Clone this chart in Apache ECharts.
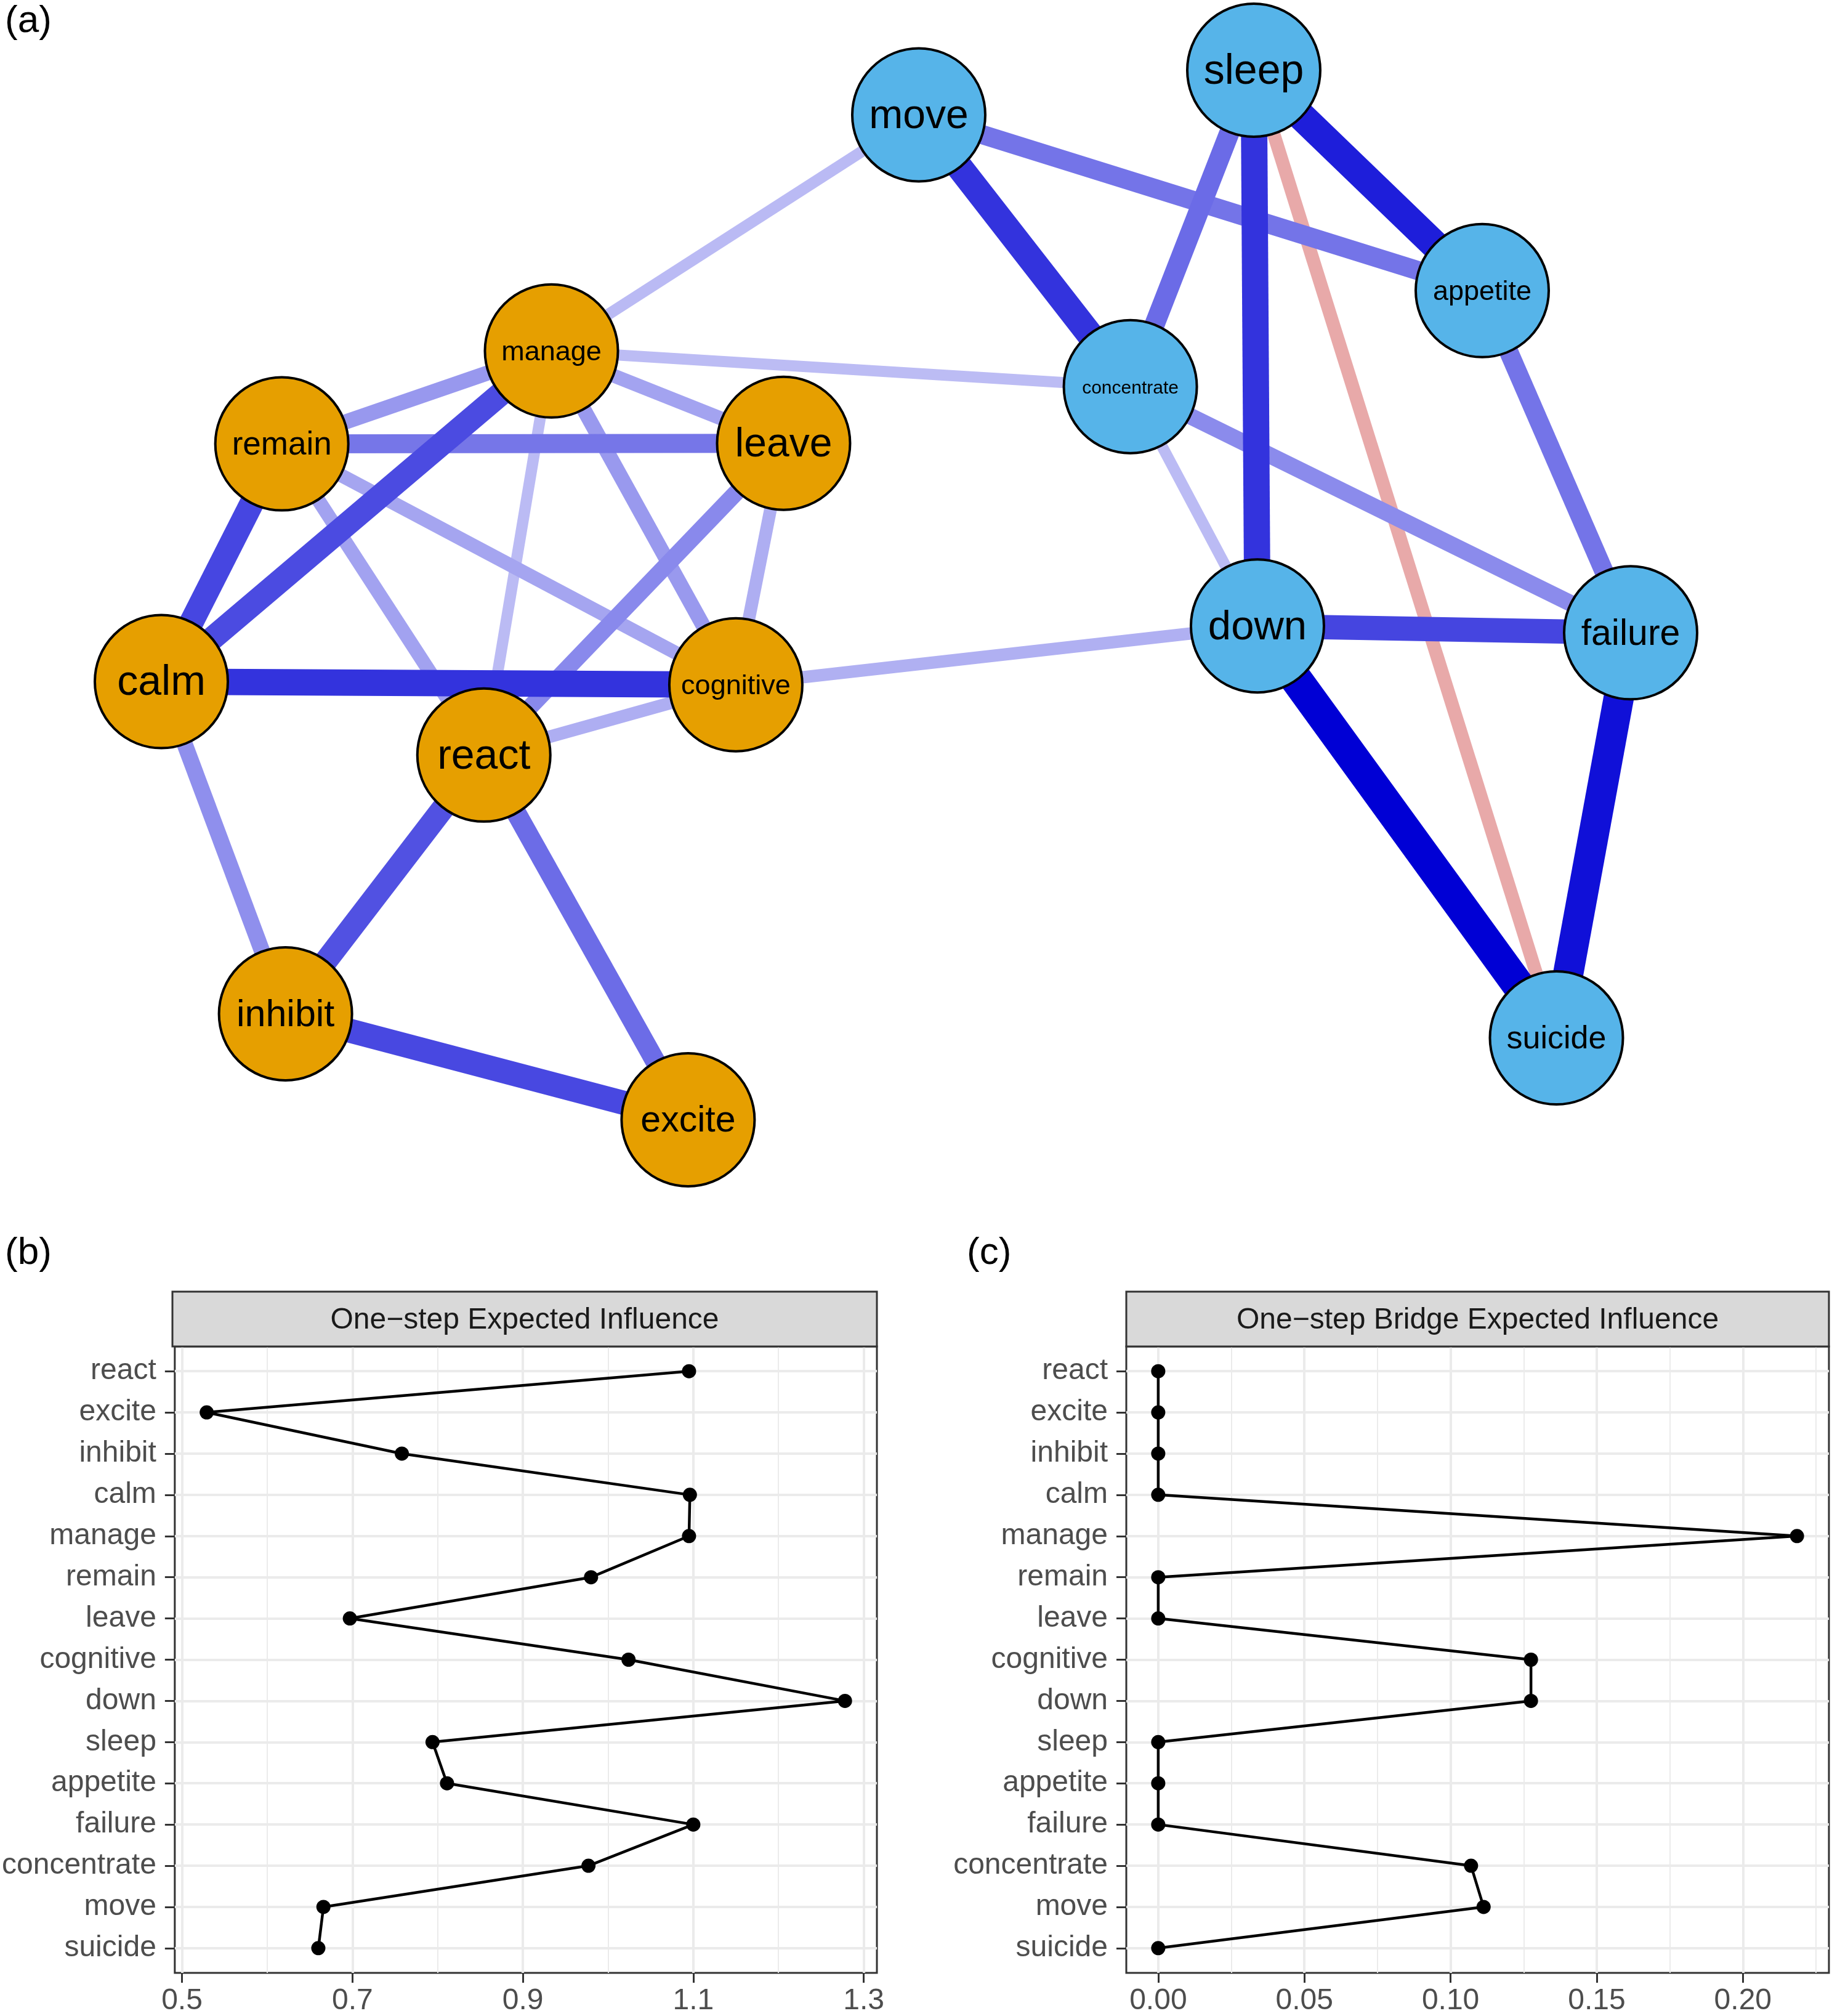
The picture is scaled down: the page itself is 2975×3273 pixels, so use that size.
<!DOCTYPE html>
<html>
<head>
<meta charset="utf-8">
<script src="https://cdn.jsdelivr.net/npm/echarts@6/dist/echarts.min.js"></script>
<style>
html,body{margin:0;padding:0;background:#ffffff;}
#chart{width:2975px;height:3273px;}
</style>
</head>
<body>
<div id="chart"></div>
<script>
// ---------------- DATA ----------------
// node names (also the row order of panels b and c, top to bottom)
const nodeNames = ['react','excite','inhibit','calm','manage','remain','leave','cognitive',
                   'down','sleep','appetite','failure','concentrate','move','suicide'];
const nodeGroup = ['emotion','emotion','emotion','emotion','emotion','emotion','emotion','emotion',
                   'depression','depression','depression','depression','depression','depression','depression'];
// network layout coordinates (normalised -1..1)
const layoutX = [-0.561,-0.283,-0.831,-1.000,-0.469,-0.836,-0.153,-0.218,
                  0.492, 0.487, 0.798, 1.000, 0.319, 0.031, 0.899];
const layoutY = [-0.305,-1.000,-0.798,-0.165, 0.465, 0.288, 0.289,-0.171,
                 -0.059, 1.000, 0.580,-0.072, 0.397, 0.915,-0.844];
// edges (partial correlation weights)
const edgeFrom = ['remain','manage','calm','calm','remain','manage','manage','manage','manage','manage','manage',
                  'remain','remain','leave','leave','react','react','react','inhibit','cognitive',
                  'move','move','sleep','sleep','sleep','sleep','concentrate','concentrate','appetite','down','down','failure'];
const edgeTo   = ['calm','calm','cognitive','inhibit','leave','remain','leave','react','cognitive','move','concentrate',
                  'react','cognitive','react','cognitive','cognitive','inhibit','excite','excite','down',
                  'concentrate','appetite','appetite','concentrate','down','suicide','down','failure','failure','failure','suicide','suicide'];
const edgeWeight = [0.297,0.290,0.328,0.180,0.221,0.165,0.148,0.110,0.164,0.111,0.107,
                    0.150,0.145,0.190,0.131,0.130,0.279,0.236,0.295,0.127,
                    0.328,0.223,0.361,0.238,0.328,-0.139,0.109,0.187,0.223,0.299,0.410,0.385];
// panel (b) one-step expected influence
const eiValues = [1.095,0.529,0.758,1.096,1.095,0.980,0.697,1.024,1.278,0.794,0.811,1.100,0.977,0.666,0.660];
// panel (c) one-step bridge expected influence
const bridgeValues = [0,0,0,0,0.2185,0,0,0.1275,0.1275,0,0,0,0.107,0.1113,0];
// tick labels
const eiTicks = [0.5,0.7,0.9,1.1,1.3];
const eiTickLabels = ['0.5','0.7','0.9','1.1','1.3'];
const eiMinor = [0.6,0.8,1.0,1.2];
const bridgeTicks = [0,0.05,0.10,0.15,0.20];
const bridgeTickLabels = ['0.00','0.05','0.10','0.15','0.20'];
const bridgeMinor = [0.025,0.075,0.125,0.175,0.225];
const stripTitles = ['One\u2212step Expected Influence','One\u2212step Bridge Expected Influence'];
const panelTags = ['(a)','(b)','(c)'];

// ---------------- STYLE ----------------
const FONT = '"Liberation Sans", Arial, Helvetica, sans-serif';
const groupColor = {emotion:'#E69F00', depression:'#56B4E9'};
const labelSize = {react:68, excite:59, inhibit:61, calm:68, manage:45, remain:53, leave:66, cognitive:45,
                   down:67, sleep:68, appetite:45, failure:59, concentrate:30, move:66, suicide:52};
const maxW = 0.41;
function mix(base, a){
  return 'rgb(' + base.map(c => Math.round(255 - a*(255-c))).join(',') + ')';
}
function edgeColor(w){
  const a = Math.min(1, Math.abs(w)/maxW);
  return w >= 0 ? mix([0,0,213], a) : mix([186,0,0], a);
}
function edgeWidth(w){
  const a = Math.min(1, Math.abs(w)/maxW);
  return 6 + 46*a;
}
function expandRange(vals){
  const mn = Math.min.apply(null, vals), mx = Math.max.apply(null, vals);
  const r = mx - mn;
  return [mn - 0.05*r, mx + 0.05*r];
}
function labelFor(ticks, labels){
  return function(v){
    for (let i=0;i<ticks.length;i++){ if (Math.abs(ticks[i]-v) < 1e-9) return labels[i]; }
    return '';
  };
}
const rowIdx = nodeNames.map((n,i)=>i);

const edgeOrder = edgeWeight.map((w,i)=>i).sort((a,b)=>Math.abs(edgeWeight[a])-Math.abs(edgeWeight[b]));

const eiRange = expandRange(eiValues);
const brRange = expandRange(bridgeValues);

const panelB = {left:280, top:2186, width:1144, height:1024};
const panelC = {left:1829, top:2186, width:1141, height:1024};
const stripH = 89;

function valueAxis(grid, range, ticks, labels){
  return {
    type:'value', gridIndex:grid, min:range[0], max:range[1], position:'bottom',
    axisLine:{show:false, onZero:false},
    axisTick:{show:true, length:16, customValues:ticks, lineStyle:{color:'#333333', width:3}},
    axisLabel:{show:true, customValues:ticks, formatter:labelFor(ticks, labels), fontSize:48, color:'#4D4D4D', margin:22, fontFamily:FONT},
    splitLine:{show:true, lineStyle:{color:'#EBEBEB', width:4}}
  };
}
function minorAxis(grid, range, ticks){
  return {
    type:'value', gridIndex:grid, min:range[0], max:range[1], position:'top',
    axisLine:{show:false, onZero:false},
    axisTick:{show:false, customValues:ticks},
    axisLabel:{show:false, customValues:ticks},
    splitLine:{show:true, lineStyle:{color:'#EBEBEB', width:2}}
  };
}
function rowAxis(grid){
  return {
    type:'value', gridIndex:grid, min:-0.6, max:nodeNames.length-1+0.6, inverse:true, position:'left',
    axisLine:{show:false, onZero:false},
    axisTick:{show:true, length:16, customValues:rowIdx, lineStyle:{color:'#333333', width:3}},
    axisLabel:{show:true, customValues:rowIdx, formatter:v=>nodeNames[Math.round(v)], fontSize:48, color:'#4D4D4D', margin:30, fontFamily:FONT},
    splitLine:{show:true, lineStyle:{color:'#EBEBEB', width:4}}
  };
}
function strip(p, title){
  return [
    {type:'rect', shape:{x:p.left, y:p.top-stripH, width:p.width, height:stripH},
     style:{fill:'#D9D9D9', stroke:'#333333', lineWidth:3}, z:10},
    {type:'text', style:{text:title, x:p.left+p.width/2, y:p.top-stripH/2+2, font:'48px '+FONT,
     fill:'#1A1A1A', textAlign:'center', textVerticalAlign:'middle'}, z:11}
  ];
}

const option = {
  animation:false,
  backgroundColor:'#ffffff',
  textStyle:{fontFamily:FONT},
  grid:[
    {left:262, top:114, width:2386, height:1704, show:false},
    Object.assign({show:true, backgroundColor:'#ffffff', borderColor:'#333333', borderWidth:3}, panelB),
    Object.assign({show:true, backgroundColor:'#ffffff', borderColor:'#333333', borderWidth:3}, panelC)
  ],
  xAxis:[
    {type:'value', gridIndex:0, min:-1, max:1, show:false},
    valueAxis(1, eiRange, eiTicks, eiTickLabels),
    minorAxis(1, eiRange, eiMinor),
    valueAxis(2, brRange, bridgeTicks, bridgeTickLabels),
    minorAxis(2, brRange, bridgeMinor)
  ],
  yAxis:[
    {type:'value', gridIndex:0, min:-1, max:1, show:false},
    rowAxis(1),
    rowAxis(2)
  ],
  graphic:[
    {type:'text', style:{text:panelTags[0], x:8, y:4, font:'62px '+FONT, fill:'#000000', textAlign:'left', textVerticalAlign:'top'}},
    {type:'text', style:{text:panelTags[1], x:8, y:2004, font:'62px '+FONT, fill:'#000000', textAlign:'left', textVerticalAlign:'top'}},
    {type:'text', style:{text:panelTags[2], x:1570, y:2004, font:'62px '+FONT, fill:'#000000', textAlign:'left', textVerticalAlign:'top'}}
  ].concat(strip(panelB, stripTitles[0]), strip(panelC, stripTitles[1])),
  series:[
    {
      type:'graph', layout:'none', coordinateSystem:'cartesian2d', xAxisIndex:0, yAxisIndex:0,
      symbol:'circle', symbolSize:216, silent:true, roam:false,
      edgeSymbol:['none','none'],
      emphasis:{disabled:true},
      label:{show:true, position:'inside', color:'#000000', fontFamily:FONT, offset:[0,3]},
      lineStyle:{opacity:1, curveness:0},
      data: nodeNames.map((n,i)=>({
        name:n, value:[layoutX[i], layoutY[i]],
        itemStyle:{color:groupColor[nodeGroup[i]], borderColor:'#000000', borderWidth:4},
        label:{fontSize:labelSize[n]}
      })),
      links: edgeOrder.map(k=>({
        source:edgeFrom[k], target:edgeTo[k],
        lineStyle:{color:edgeColor(edgeWeight[k]), width:edgeWidth(edgeWeight[k]), opacity:1}
      }))
    },
    {
      type:'line', xAxisIndex:1, yAxisIndex:1, silent:true, z:5,
      data: eiValues.map((v,i)=>[v,i]),
      symbol:'circle', symbolSize:23, showAllSymbol:true,
      itemStyle:{color:'#000000'}, lineStyle:{color:'#000000', width:4.5}
    },
    {
      type:'line', xAxisIndex:3, yAxisIndex:2, silent:true, z:5,
      data: bridgeValues.map((v,i)=>[v,i]),
      symbol:'circle', symbolSize:23, showAllSymbol:true,
      itemStyle:{color:'#000000'}, lineStyle:{color:'#000000', width:4.5}
    }
  ]
};
const chart = echarts.init(document.getElementById('chart'));
chart.setOption(option);
</script>
</body>
</html>
